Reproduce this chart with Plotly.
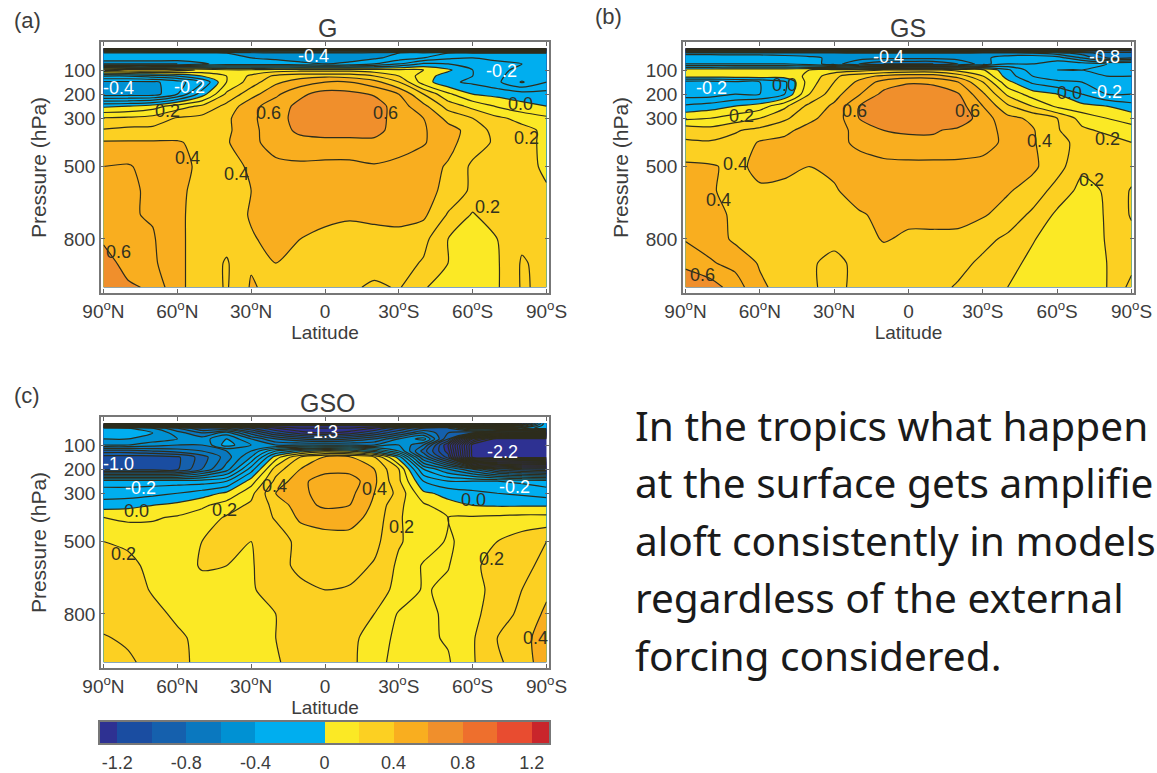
import plotly.graph_objects as go

W, H = 1157, 773
lat = [-90, -80, -70, -60, -50, -40, -30, -20, -10, 0, 10, 20, 30, 40, 50, 60, 70, 80, 90]
pres = [10, 20, 30, 50, 75, 100, 125, 150, 200, 250, 300, 350, 400, 500, 600, 700, 800, 900, 1000]

panel_a = [
 [-1.4]*19,
 [-.75]*19,
 [-.35,-.35,-.38,-.38,-.38,-.4,-.45,-.48,-.48,-.48,-.48,-.45,-.4,-.35,-.3,-.3,-.3,-.3,-.3],
 [-.3,-.3,-.3,-.32,-.33,-.36,-.4,-.42,-.44,-.45,-.44,-.42,-.36,-.3,-.22,-.2,-.22,-.25,-.25],
 [-.5,-.5,-.5,-.5,-.42,-.35,-.35,-.35,-.38,-.4,-.38,-.3,-.2,-.08,-.1,-.15,-.18,-.2,-.2],
 [.22,.28,.28,.25,.18,.12,.12,.15,.16,.16,.16,.14,.12,.1,.02,-.1,-.18,-.22,-.22],
 [-.2,-.2,-.15,-.1,0,.1,.22,.32,.36,.38,.36,.3,.2,.05,-.05,-.1,-.18,-.25,-.2],
 [-.42,-.42,-.42,-.35,-.2,.1,.25,.38,.45,.5,.5,.44,.3,.05,-.08,-.12,-.18,-.31,-.2],
 [-.45,-.45,-.45,-.3,-.05,.22,.36,.48,.58,.64,.63,.59,.5,.3,.12,0,-.03,-.05,-.06],
 [-.02,0,.05,.15,.22,.33,.47,.55,.63,.66,.67,.65,.55,.43,.26,.17,.09,.03,0],
 [.21,.22,.24,.31,.33,.38,.48,.56,.64,.66,.66,.64,.56,.5,.37,.3,.22,.17,.12],
 [.31,.33,.33,.34,.34,.38,.47,.56,.62,.63,.63,.63,.56,.51,.44,.36,.26,.23,.18],
 [.41,.41,.41,.41,.37,.39,.47,.55,.57,.58,.58,.58,.55,.51,.43,.35,.28,.23,.18],
 [.5,.51,.46,.43,.38,.35,.42,.47,.48,.47,.47,.49,.47,.44,.39,.28,.25,.24,.18],
 [.51,.51,.49,.42,.37,.34,.4,.45,.45,.45,.45,.45,.45,.44,.37,.28,.27,.28,.21],
 [.51,.51,.49,.42,.36,.34,.41,.44,.43,.42,.41,.42,.42,.42,.29,.19,.27,.28,.28],
 [.58,.52,.51,.42,.36,.33,.39,.43,.4,.38,.37,.37,.38,.33,.2,.15,.2,.28,.28],
 [.66,.55,.52,.42,.36,.29,.39,.4,.36,.35,.35,.35,.34,.29,.2,.14,.19,.31,.27],
 [.66,.62,.58,.42,.36,.29,.41,.37,.34,.33,.32,.28,.31,.21,.15,.13,.19,.31,.28],
]

panel_b = [
 [-1.4]*19,
 [-.9]*19,
 [-.45,-.45,-.45,-.45,-.45,-.45,-.48,-.5,-.5,-.5,-.5,-.5,-.48,-.45,-.5,-.55,-.65,-.75,-.75],
 [-.3,-.3,-.32,-.32,-.35,-.38,-.42,-.45,-.47,-.47,-.47,-.45,-.42,-.36,-.3,-.35,-.5,-.7,-.7],
 [-.3,-.3,-.3,-.3,-.3,-.35,-.45,-.6,-.7,-.7,-.7,-.6,-.45,-.3,-.3,-.25,-.25,-.3,-.3],
 [.06,.06,.07,.07,.07,.1,.13,.16,.2,.22,.22,.16,.12,-.08,-.25,-.3,-.3,-.35,-.35],
 [.05,.05,.06,.07,.05,.12,.28,.36,.42,.45,.45,.36,.2,-.05,-.2,-.25,-.28,-.3,-.3],
 [-.25,-.25,-.22,-.2,-.12,.15,.3,.42,.54,.59,.58,.5,.3,.03,-.12,-.18,-.2,-.25,-.25],
 [-.25,-.25,-.2,-.2,-.1,.2,.36,.49,.63,.66,.66,.61,.42,.18,.05,0,-.1,-.2,-.2],
 [-.08,-.05,0,.05,.18,.33,.42,.6,.65,.68,.68,.65,.5,.32,.2,.08,.03,0,-.06],
 [.08,.1,.15,.2,.28,.38,.44,.6,.66,.68,.68,.67,.55,.43,.38,.3,.16,.1,.06],
 [.27,.24,.29,.33,.38,.43,.46,.53,.6,.61,.61,.58,.54,.47,.41,.31,.22,.18,.14],
 [.31,.31,.33,.41,.42,.45,.47,.52,.56,.58,.58,.57,.55,.47,.41,.34,.26,.24,.2],
 [.42,.41,.38,.42,.42,.4,.42,.46,.47,.47,.47,.47,.46,.45,.42,.34,.22,.24,.25],
 [.42,.41,.37,.39,.38,.39,.39,.44,.46,.46,.46,.46,.44,.41,.36,.26,.17,.21,.31],
 [.45,.44,.38,.35,.34,.34,.35,.39,.42,.43,.43,.44,.41,.36,.28,.18,.14,.21,.31],
 [.49,.46,.38,.35,.33,.32,.32,.35,.41,.38,.38,.37,.33,.28,.21,.14,.11,.21,.27],
 [.58,.51,.47,.39,.35,.31,.28,.32,.34,.34,.34,.33,.28,.24,.17,.13,.12,.2,.27],
 [.66,.65,.55,.42,.36,.31,.28,.32,.33,.33,.33,.29,.26,.2,.14,.12,.15,.2,.33],
]

panel_c = [
 [-2.2,-2.2,-2.2,-2.2,-2.2,-2.2,-2.2,-2.2,-2.2,-2.2,-2.2,-2.2,-2.2,-2.2,-2.2,-2.2,-2.0,-1.2,-.3],
 [-1.4,-1.4,-1.4,-1.4,-1.4,-1.4,-1.5,-1.5,-1.5,-1.5,-1.5,-1.5,-1.5,-1.4,-1.4,-1.4,-1.2,-.8,-.3],
 [-.35,-.4,-.5,-.7,-.9,-.9,-1.1,-1.3,-1.4,-1.4,-1.4,-1.3,-1.1,-.9,-.8,-.5,-.5,-.5,-.3],
 [-.35,-.35,-.4,-.55,-.7,-.55,-.85,-1.1,-1.25,-1.3,-1.25,-1.1,-.9,-.7,-.9,-1.0,-1.1,-1.15,-1.15],
 [-.4,-.4,-.45,-.5,-.55,-.4,-.6,-.8,-.9,-.95,-.9,-.8,-.6,-.45,-1.0,-2.0,-2.35,-2.35,-2.35],
 [-.5,-.5,-.55,-.6,-.6,-.35,-.5,-.6,-.6,-.6,-.6,-.6,-.5,-.7,-1.3,-2.35,-2.35,-2.35,-2.35],
 [-.85,-.85,-.8,-.75,-.7,-.6,-.5,-.2,-.05,.05,0,-.15,-.4,-.85,-1.25,-2.35,-2.35,-2.35,-2.35],
 [-1.05,-1.05,-1.05,-1.02,-.85,-.65,-.4,.05,.3,.41,.41,.3,-.05,-.7,-1.15,-2.35,-2.35,-2.35,-2.35],
 [-1.05,-1.05,-1.05,-1.02,-.8,-.55,-.15,.25,.4,.46,.46,.4,.2,-.3,-.5,-.7,-.95,-1.05,-1.1],
 [-.25,-.25,-.25,-.25,-.25,-.2,.05,.33,.47,.56,.56,.42,.22,-.1,-.2,-.2,-.2,-.22,-.25],
 [-.15,-.15,-.13,-.1,-.05,.02,.17,.4,.47,.55,.53,.4,.27,.02,-.03,-.07,-.1,-.12,-.15],
 [-.05,-.03,0,.03,.08,.15,.22,.33,.46,.52,.5,.38,.22,.12,.03,0,-.01,-.01,-.01],
 [.1,.08,.09,.11,.15,.21,.23,.31,.42,.44,.45,.36,.21,.14,.1,.11,.12,.13,.13],
 [.2,.18,.15,.16,.2,.22,.2,.25,.33,.36,.35,.33,.21,.15,.09,.13,.2,.25,.3],
 [.23,.23,.17,.15,.21,.2,.19,.27,.32,.34,.34,.29,.18,.09,.095,.18,.24,.27,.33],
 [.25,.25,.19,.17,.16,.16,.19,.24,.28,.3,.29,.25,.17,.09,.12,.17,.23,.3,.38],
 [.25,.24,.23,.18,.16,.15,.16,.2,.25,.26,.25,.2,.09,.07,.12,.18,.24,.33,.42],
 [.31,.28,.25,.22,.17,.15,.15,.2,.25,.27,.25,.12,.09,.08,.11,.19,.3,.36,.46],
 [.33,.32,.26,.22,.18,.16,.15,.19,.24,.26,.24,.11,.09,.08,.09,.19,.29,.33,.48],
]

labels_a = [(-4.5,41,"-0.4","w"),(71.5,103,"-0.2","w"),(-84,176,"-0.4","w"),(-55,172,"-0.2","w"),
            (79.5,241,"0.0","k"),(-64,268,"0.2","k"),(-23,280,"0.6","k"),(24.7,280,"0.6","k"),
            (81.7,383,"0.2","k"),(-56,466,"0.4","k"),(-36,531,"0.4","k"),(66,669,"0.2","k"),(-84,855,"0.6","k")]
labels_b = [(-8,48,"-0.4","w"),(79,48,"-0.8","w"),(-79.5,175,"-0.2","w"),(-50,161,"0.0","k"),
            (65,197,"0.0","k"),(80,190,"-0.2","w"),(-21.7,271,"0.6","k"),(24,271,"0.6","k"),
            (-67.5,292,"0.2","k"),(80.5,386,"0.2","k"),(53,393,"0.4","k"),(-70,489,"0.4","k"),
            (-76.5,639,"0.4","k"),(74,556,"0.2","k"),(-83,948,"0.6","k")]
labels_c = [(-1,45,"-1.3","w"),(72,128,"-2.2","w"),(-84,179,"-1.0","w"),(-75,280,"-0.2","w"),
            (77,275,"-0.2","w"),(-76.5,372,"0.0","k"),(60.5,328,"0.0","k"),(-41,369,"0.2","k"),
            (-20.5,270,"0.4","k"),(20,282,"0.4","k"),(31,441,"0.2","k"),(-82,553,"0.2","k"),
            (67.5,572,"0.2","k"),(85.5,898,"0.4","k")]

x_ticks = [-90, -60, -30, 0, 30, 60, 90]
x_text = ["90<sup>o</sup>N", "60<sup>o</sup>N", "30<sup>o</sup>N", "0", "30<sup>o</sup>S", "60<sup>o</sup>S", "90<sup>o</sup>S"]
y_ticks = [100, 200, 300, 500, 800]
cb_ticks = [-1.2, -0.8, -0.4, 0, 0.4, 0.8, 1.2]
cb_text = ["-1.2", "-0.8", "-0.4", "0", "0.4", "0.8", "1.2"]
cb_centres = [-1.25, -1.15, -1.05, -.95, -.85, -.75, -.65, -.55, -.45, -.35, -.25, -.15, -.05,
              .05, .15, .25, .35, .45, .55, .65, .75, .85, .95, 1.05, 1.15, 1.25]

# colour bands: upper value limit, colour
bands = [(-1.2, "#2e3192"), (-1.0, "#1a4da1"), (-0.8, "#1560ad"), (-0.6, "#0a78bf"),
         (-0.4, "#0091d3"), (0.0, "#00aeef"), (0.2, "#fbe925"), (0.4, "#fcd022"),
         (0.6, "#f9ae1f"), (0.8, "#f08f2c"), (1.0, "#ee6f2d"), (1.2, "#e84c30"), (1.5, "#c9252b")]
ZMIN, ZMAX = -2.5, 1.5
scale, prev = [], 0.0
for top, col in bands:
    s = (top - ZMIN) / (ZMAX - ZMIN)
    scale += [[prev, col], [s, col]]
    prev = s

FONT = "Liberation Sans, Arial, sans-serif"
TXT = "#3c3c3c"
fig = go.Figure()

panels = [
    ("", "", (101, 549), (42, 293), panel_a, labels_a),
    ("2", "2", (683, 1134), (42, 293), panel_b, labels_b),
    ("3", "3", (101, 549), (417, 668), panel_c, labels_c),
]
layout = {}
annots = []
for xs, ys, (x0, x1), (y0, y1), z, labs in panels:
    xa, ya = "x" + xs, "y" + ys
    fig.add_trace(go.Contour(x=lat, y=pres, z=z, xaxis=xa, yaxis=ya, showscale=False,
                             colorscale=scale, zmin=ZMIN, zmax=ZMAX, hoverinfo="skip",
                             contours=dict(start=-2.4, end=1.4, size=0.2, coloring="fill", showlines=False),
                             line=dict(width=0, smoothing=0.7)))
    fig.add_trace(go.Contour(x=lat, y=pres, z=z, xaxis=xa, yaxis=ya, showscale=False,
                             hoverinfo="skip",
                             contours=dict(start=-2.4, end=1.4, size=0.1, coloring="none"),
                             line=dict(width=1.2, color="#2e2d1c", smoothing=0.7)))
    layout["xaxis" + xs] = dict(domain=[x0 / W, x1 / W], range=[-91, 91], anchor=ya,
                                tickmode="array", tickvals=x_ticks, ticktext=x_text,
                                ticks="inside", ticklen=4, tickcolor="#666", showgrid=False,
                                zeroline=False, mirror="allticks", showline=True, linecolor="#777", linewidth=1.5,
                                tickfont=dict(size=19, color=TXT, family=FONT),
                                title=dict(text="Latitude", font=dict(size=19, color=TXT, family=FONT), standoff=2))
    layout["yaxis" + ys] = dict(domain=[1 - y1 / H, 1 - y0 / H], range=[1024, -16], anchor=xa,
                                tickmode="array", tickvals=y_ticks,
                                ticks="inside", ticklen=4, tickcolor="#666", showgrid=False,
                                zeroline=False, mirror="allticks", showline=True, linecolor="#777", linewidth=1.5,
                                tickfont=dict(size=19, color=TXT, family=FONT),
                                title=dict(text="Pressure (hPa)", font=dict(size=21, color=TXT, family=FONT), standoff=11))
    for lx, lp, t, c in labs:
        annots.append(dict(x=lx, y=lp, xref=xa, yref=ya, text=t, showarrow=False,
                           font=dict(size=18, family=FONT, color="#ffffff" if c == "w" else "#33321f")))

# colour bar
fig.add_trace(go.Heatmap(x=cb_centres, y=[0], z=[cb_centres], xaxis="x4", yaxis="y4", showscale=False,
                         colorscale=scale, zmin=ZMIN, zmax=ZMAX, hoverinfo="skip"))
layout["xaxis4"] = dict(domain=[100 / W, 549 / W], range=[-1.3, 1.3], anchor="y4", tickmode="array",
                        tickvals=cb_ticks, ticktext=cb_text, ticks="outside", ticklen=3, tickcolor="rgba(0,0,0,0)",
                        showgrid=False, zeroline=False,
                        mirror=True, showline=True, linecolor="#777", linewidth=1.5,
                        tickfont=dict(size=18, color=TXT, family=FONT))
layout["yaxis4"] = dict(domain=[1 - 743 / H, 1 - 722 / H], range=[-0.5, 0.5], anchor="x4", showticklabels=False,
                        ticks="", showgrid=False, zeroline=False, mirror=True, showline=True,
                        linecolor="#777", linewidth=1.5)

def paper_text(x, y, text, size, anchor="center", family=FONT, color=TXT):
    annots.append(dict(x=x / W, y=1 - y / H, xref="paper", yref="paper", text=text, showarrow=False,
                       xanchor=anchor, yanchor="middle", font=dict(size=size, family=family, color=color)))

paper_text(327, 28, "G", 25)
paper_text(908, 28, "GS", 25)
paper_text(328, 403, "GSO", 25)
paper_text(12, 20, "(a)", 22, "left")
paper_text(593, 17, "(b)", 22, "left")
paper_text(12, 395, "(c)", 22, "left")

body_lines = ["In the tropics what happen", "at the surface gets amplifie", "aloft consistently in models",
              "regardless of the external", "forcing considered."]
for i, line in enumerate(body_lines):
    paper_text(633, 425 + i * 57.5, line, 40.6, "left", family="Noto Sans, sans-serif", color="#1a1a1a")

fig.update_layout(width=W, height=H, margin=dict(l=0, r=0, t=0, b=0, autoexpand=False), paper_bgcolor="white",
                  plot_bgcolor="white", showlegend=False, annotations=annots, **layout)
fig.write_html("out.html", config={"displayModeBar": False}, post_script="document.body.style.margin='0';")
